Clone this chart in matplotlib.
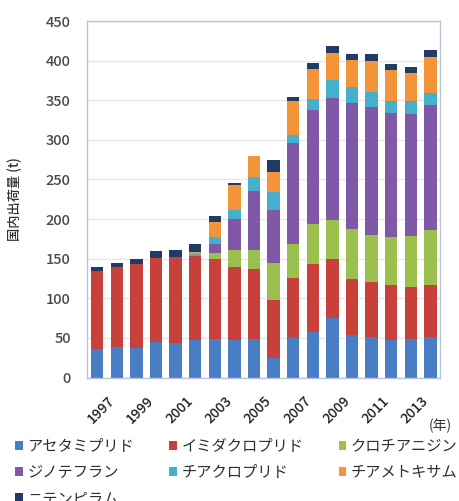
import numpy as np
import matplotlib.pyplot as plt
from matplotlib.patches import Patch
from matplotlib.transforms import ScaledTranslation

plt.rcParams['font.family'] = ['Noto Sans CJK JP', 'DejaVu Sans']

# Domestic shipments of neonicotinoid insecticides (t), 1997-2014
years = list(range(1997, 2015))
acetamiprid = [36, 39, 37, 45, 43, 47, 48, 47, 49, 24, 50, 57, 75, 54, 51, 47, 48, 51]
imidacloprid = [99, 100, 106, 106, 109, 106, 101, 93, 88, 74, 75, 86, 75, 70, 70, 70, 66, 66]
clothianidin = [0, 0, 0, 0, 0, 1, 8, 21, 24, 46, 44, 51, 49, 64, 59, 60, 65, 69]
dinotefuran = [0, 0, 0, 0, 0, 0, 11, 39, 74, 67, 127, 144, 154, 158, 161, 157, 154, 158]
thiacloprid = [0, 0, 0, 0, 0, 2, 10, 11, 18, 23, 10, 13, 23, 21, 20, 15, 16, 15]
thiamethoxam = [0, 0, 0, 0, 0, 2, 18, 32, 27, 25, 43, 38, 34, 34, 39, 39, 35, 46]
nitenpyram = [5, 6, 6, 9, 9, 11, 8, 3, 0, 15, 5, 8, 9, 8, 8, 8, 8, 9]

names = ['アセタミプリド', 'イミダクロプリド', 'クロチアニジン',
         'ジノテフラン', 'チアクロプリド', 'チアメトキサム', 'ニテンピラム']
series = [acetamiprid, imidacloprid, clothianidin, dinotefuran,
          thiacloprid, thiamethoxam, nitenpyram]
colors = ['#4a7ec4', '#c8403a', '#9bc04e', '#7f58a8', '#44b0cc', '#f39438', '#1f3b66']

fig = plt.figure(figsize=(4.6, 5.01), dpi=100)
ax = fig.add_axes([0.19, 0.2465, 0.767, 0.7115])

x = np.arange(len(years))
bottom = np.zeros(len(years))
for vals, name, col in zip(series, names, colors):
    ax.bar(x, vals, width=0.64, bottom=bottom, color=col, label=name, zorder=2)
    bottom += np.array(vals)

ax.set_xlim(-0.5, len(years) - 0.5)
ax.set_ylim(0, 450)
ax.set_yticks(range(0, 451, 50))
ax.yaxis.grid(True, color='#ece4e4', linewidth=1, zorder=0)
for s in ax.spines.values():
    s.set_color('#b8c4dc')
    s.set_linewidth(1)

ax.tick_params(axis='y', length=0, pad=12, labelsize=10.5, labelcolor='#484848')
ax.tick_params(axis='x', length=0, pad=12, labelsize=10, labelcolor='#202020')
ax.set_xticks(x[::2])
ax.set_xticklabels([str(y) for y in years[::2]], rotation=45, ha='center', va='top')
shift = ScaledTranslation(3 / 72, 0, fig.dpi_scale_trans)
for lbl in ax.get_xticklabels() + ax.get_yticklabels():
    lbl.set_fontweight('medium')
for lbl in ax.get_xticklabels():
    lbl.set_transform(lbl.get_transform() + shift)

ax.set_ylabel('国内出荷量 (t)', fontsize=9.5, color='#303030', fontweight='medium')
ax.yaxis.set_label_coords(-0.185, 0.5)
fig.text(0.957, 0.15, '(年)', fontsize=10, color='#303030', ha='center', va='center')

# row-major order for a 3-column legend
handles = [Patch(facecolor=c, label=n) for c, n in zip(colors, names)]
order = [0, 3, 6, 1, 4, 2, 5]
fig.legend([handles[i] for i in order], [names[i] for i in order],
           ncol=3, loc='upper left', bbox_to_anchor=(0.033, 0.126),
           frameon=False, fontsize=11, handlelength=0.5, handleheight=0.5,
           handletextpad=0.3, columnspacing=2.3, labelspacing=0.58,
           borderpad=0, borderaxespad=0, labelcolor='#303030')

fig.savefig('out.png', dpi=100)
